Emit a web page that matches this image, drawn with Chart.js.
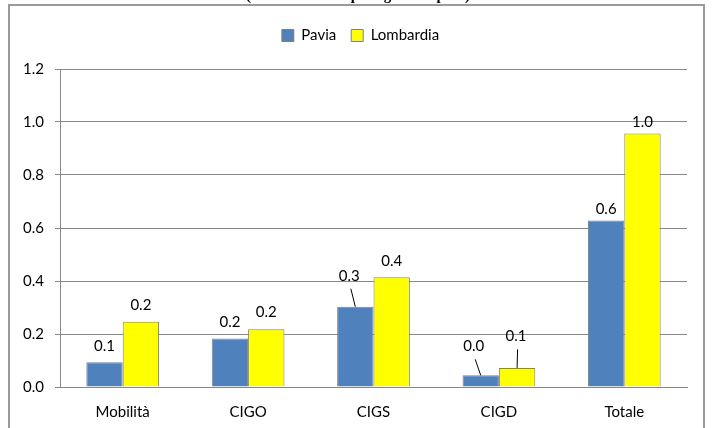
<!DOCTYPE html>
<html>
<head>
<meta charset="utf-8">
<script src="https://cdn.jsdelivr.net/npm/chart.js@4.4.1/dist/chart.umd.min.js"></script>
<style>
  html, body { margin: 0; padding: 0; background: #fff; overflow: hidden; }
  #wrap { position: relative; width: 712px; height: 428px; overflow: hidden; }
  #frame { position: absolute; left: 8px; top: 4px; width: 697px; height: 440px; border: 2px solid #9a9a9a; box-sizing: border-box; }
  canvas { position: absolute; left: 0; top: 0; }
</style>
</head>
<body>
<div id="wrap">
  <div id="frame"></div>
  <canvas id="c" width="712" height="428"></canvas>
</div>
<script>
const titleText = "(ore autorizzate per ogni occupato)";
const categories = ["Mobilità", "CIGO", "CIGS", "CIGD", "Totale"];
const seriesNames = ["Pavia", "Lombardia"];
const paviaValues = [0.093, 0.183, 0.303, 0.044, 0.628];
const lombardiaValues = [0.246, 0.218, 0.414, 0.072, 0.957];
const yTicks = [0.0, 0.2, 0.4, 0.6, 0.8, 1.0, 1.2];

// label placement (style only): [dx, dy, leaderLine]
const labelPlacement = [
  [[0,-16.5,false],[0,-16.5,false],[-6,-31,true],[-7,-29,true],[0,-11.5,false]],
  [[0,-16.5,false],[0,-17,false],[0,-16.5,false],[-1,-31.5,true],[0,-11,false]]
];

const FONT = "Lato";

const legendSpace = {
  id: 'legendSpace',
  beforeInit(chart) {
    const fit = chart.legend.fit;
    chart.legend.fit = function () { fit.bind(chart.legend)(); this.height += 16; };
  },
  afterLayout(chart) {
    chart.legend.left += 12;
    chart.legend.right += 12;
  }
};

const cutTitle = {
  id: 'cutTitle',
  afterDraw(chart) {
    const ctx = chart.ctx;
    ctx.save();
    ctx.font = "bold 15px 'Liberation Serif'";
    ctx.fillStyle = "#000";
    ctx.textAlign = "center";
    ctx.textBaseline = "alphabetic";
    ctx.fillText(titleText, 358, 0);
    ctx.restore();
  }
};

const valueLabels = {
  id: 'valueLabels',
  afterDatasetsDraw(chart) {
    const ctx = chart.ctx;
    ctx.save();
    ctx.font = "15px " + FONT;
    ctx.fillStyle = "#000";
    ctx.textAlign = "center";
    ctx.textBaseline = "middle";
    chart.data.datasets.forEach((ds, di) => {
      const meta = chart.getDatasetMeta(di);
      meta.data.forEach((bar, i) => {
        const p = labelPlacement[di][i];
        const lx = bar.x + p[0], ly = bar.y + p[1];
        if (p[2]) {
          ctx.strokeStyle = "#000";
          ctx.lineWidth = 1;
          ctx.beginPath();
          ctx.moveTo(bar.x, bar.y);
          ctx.lineTo(lx + 1.5, ly + 13);
          ctx.stroke();
        }
        ctx.fillText(ds.data[i].toFixed(1), lx, ly);
      });
    });
    ctx.restore();
  }
};

new Chart(document.getElementById('c'), {
  type: 'bar',
  data: {
    labels: categories,
    datasets: [
      { label: seriesNames[0], data: paviaValues, backgroundColor: '#4F81BD', borderColor: '#808080', borderWidth: 1 },
      { label: seriesNames[1], data: lombardiaValues, backgroundColor: '#FFFF00', borderColor: '#808080', borderWidth: 1 }
    ]
  },
  options: {
    responsive: false,
    animation: false,
    devicePixelRatio: 1,
    categoryPercentage: 0.58,
    barPercentage: 1.0,
    layout: { padding: { left: 10, right: 25, top: 13, bottom: 0 } },
    plugins: {
      legend: {
        position: 'top',
        labels: { font: { family: FONT, size: 15 }, color: '#000', boxWidth: 12, boxHeight: 12, padding: 15 }
      },
      tooltip: { enabled: false }
    },
    scales: {
      x: {
        grid: { display: false },
        border: { display: true, color: '#888' },
        ticks: { font: { family: FONT, size: 15 }, color: '#000', padding: 8 },
        afterFit(s) { s.height = 41; }
      },
      y: {
        min: 0, max: 1.2,
        afterBuildTicks(s) { s.ticks = yTicks.map(v => ({ value: v })); },
        grid: { color: '#888', tickLength: 5, drawTicks: true },
        border: { display: true, color: '#888' },
        ticks: { font: { family: FONT, size: 15 }, color: '#000', padding: 11, callback: v => Number(v).toFixed(1) },
        afterFit(s) { s.width = 50; }
      }
    }
  },
  plugins: [legendSpace, valueLabels, cutTitle]
});
</script>
</body>
</html>
